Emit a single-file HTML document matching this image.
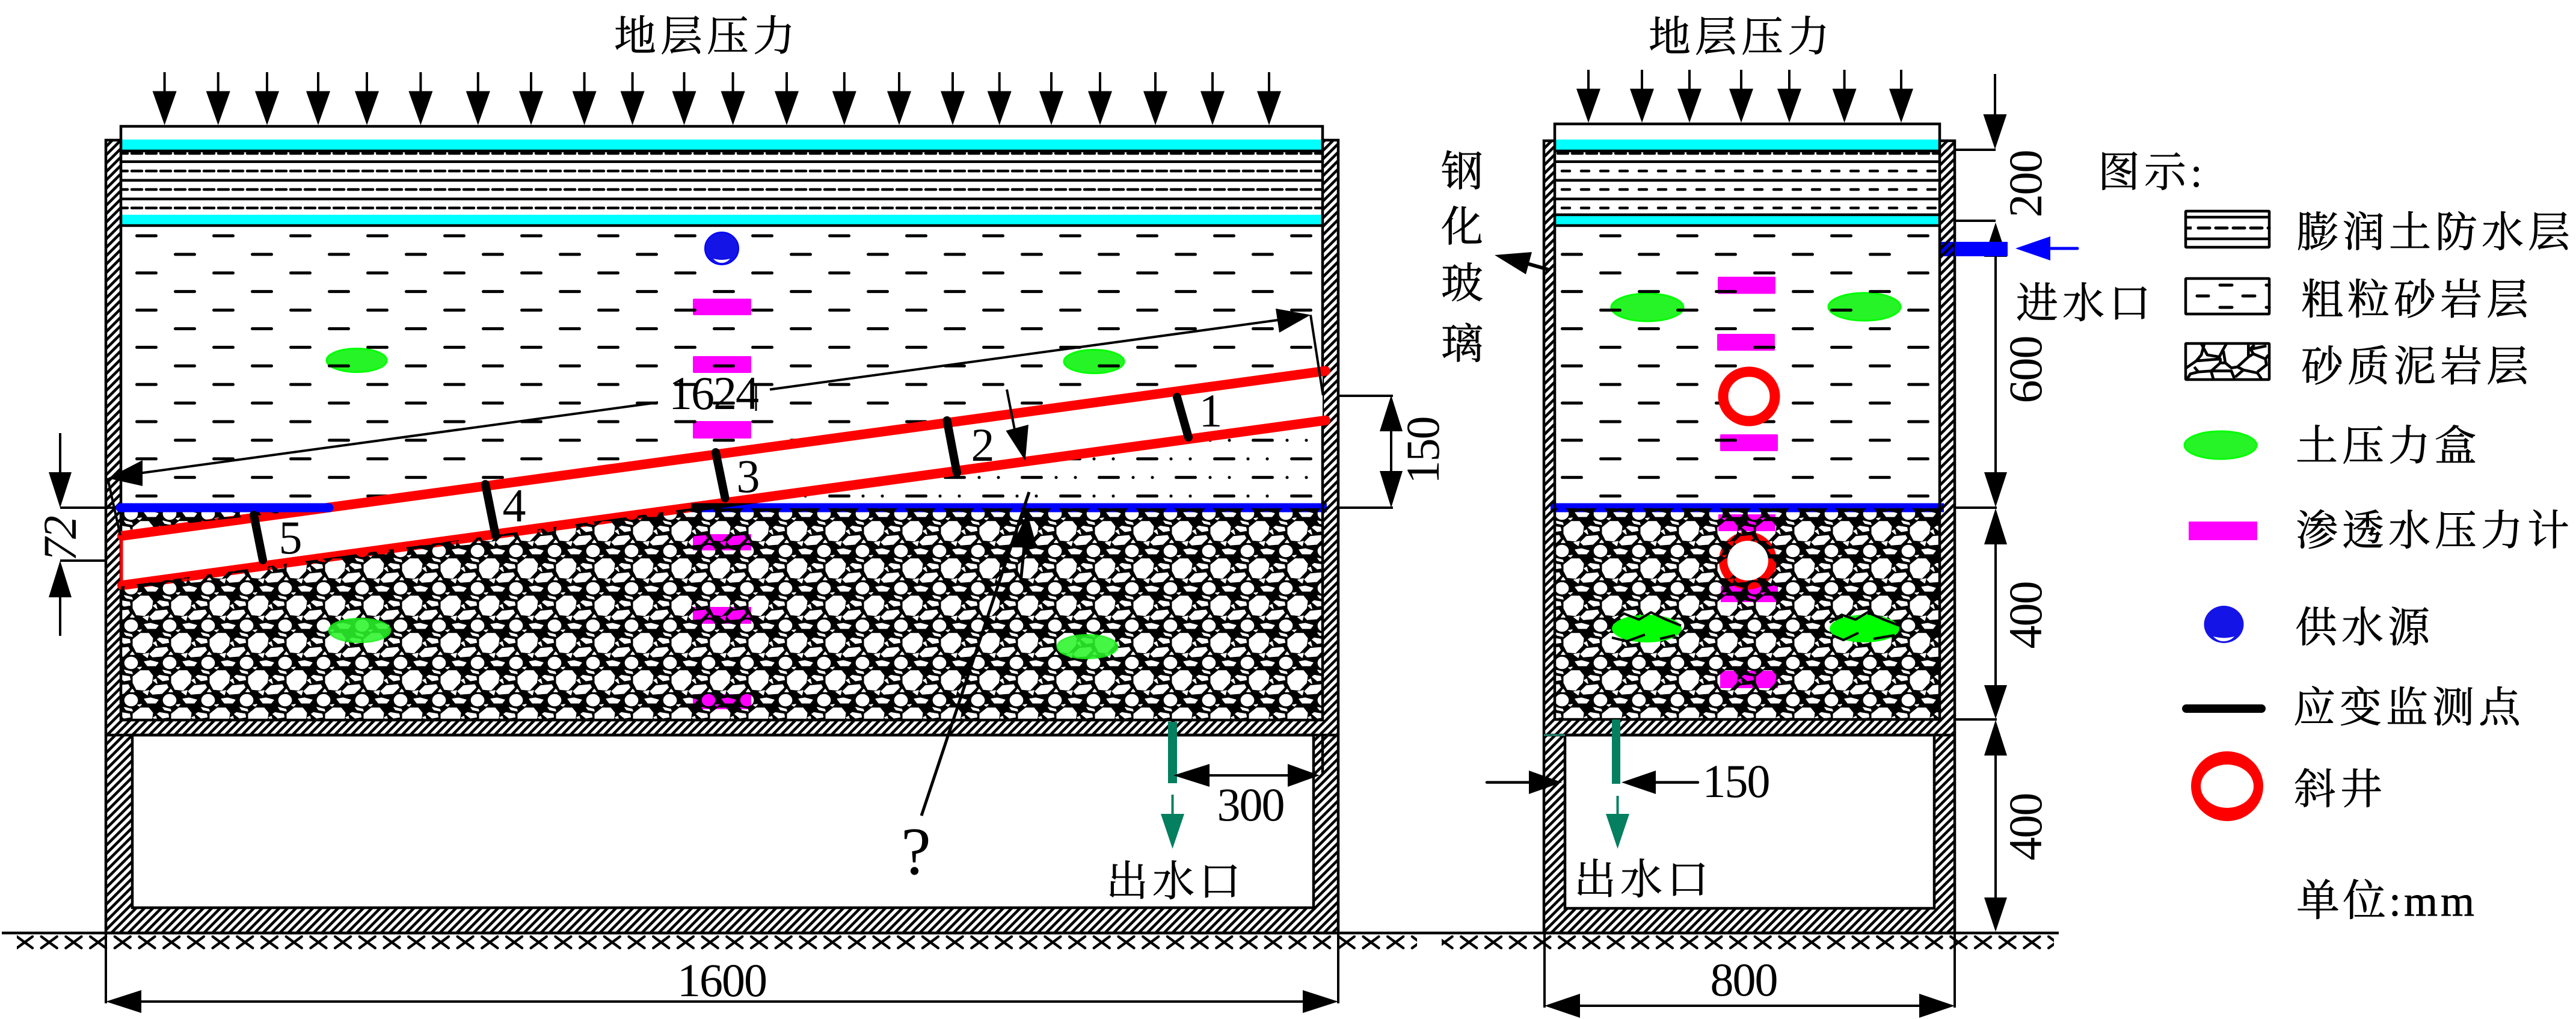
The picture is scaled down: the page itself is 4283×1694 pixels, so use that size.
<!DOCTYPE html>
<html><head><meta charset="utf-8"><style>
html,body{margin:0;padding:0;background:#fff}
svg{display:block}
text{font-family:"Liberation Serif","Noto Serif CJK SC",serif;fill:#000}
.c{font-size:70px;letter-spacing:7px;stroke:#000;stroke-width:.7px}
.d{font-size:78px;letter-spacing:-2px;text-anchor:middle}
.r{font-size:78px;letter-spacing:-2px;text-anchor:middle}
</style></head><body>
<svg xmlns="http://www.w3.org/2000/svg" width="4283" height="1694" viewBox="0 0 4283 1694">
<defs>
<pattern id="hatch" patternUnits="userSpaceOnUse" width="14" height="14">
<rect width="14" height="14" fill="#fff"/>
<path d="M-3 3L3 -3M-3 17L17 -3M11 17L17 11" stroke="#000" stroke-width="4.6"/>
</pattern>
<pattern id="mud" patternUnits="userSpaceOnUse" x="207" y="377" width="128" height="61.8">
<path d="M20.5 15H52.5M84.5 45.9H116.5" stroke="#000" stroke-width="5" stroke-linecap="round"/>
</pattern>
<pattern id="mud2" patternUnits="userSpaceOnUse" x="2641" y="377" width="128" height="61.8">
<path d="M20.5 15H52.5M84.5 45.9H116.5" stroke="#000" stroke-width="5" stroke-linecap="round"/>
</pattern>
<pattern id="dots" patternUnits="userSpaceOnUse" x="207" y="377" width="128" height="61.8">
<circle cx="76" cy="15" r="2.6"/><circle cx="108" cy="15" r="2.6"/>
<circle cx="13" cy="45.9" r="2.6"/><circle cx="45" cy="45.9" r="2.6"/>
</pattern>
<g id="cells" fill="#fff" stroke="#fff" stroke-width="1.6" stroke-linejoin="round">
<polygon points="16.3,24 28.7,14 42,14 48.7,22.3 47,34 35.3,46.3 22,45 16.3,34"/>
<polygon points="44.3,48.3 53.7,39 72,37.3 74.3,41.7 64.3,51.7 48.7,53"/>
<polygon points="57,24 60.3,21.7 74.3,24 75.3,29 65.3,30.7"/>
<ellipse cx="13" cy="1" rx="10.5" ry="9.5"/>
<polygon points="35.3,-1 45.3,-2.7 57.7,.7 53.7,5.7 40.3,5.7"/>
<polygon points="33,49 42,47 40,54"/>
<polygon points="15,45 18,49 12,49"/>
<polygon points="50,30 54,28 56,35"/>
<polygon points="2,13 14,16 15,19 5,17"/>
<polygon points="24,9 30,8 27,11"/>
</g>
<g id="tile">
<use href="#cells"/><use href="#cells" x="-64"/><use href="#cells" y="62"/><use href="#cells" x="-64" y="62"/><use href="#cells" y="-62"/>
</g>
<pattern id="rock" patternUnits="userSpaceOnUse" x="653" y="1101" width="64" height="62">
<rect width="64" height="62" fill="#000"/><use href="#tile"/>
</pattern>
<pattern id="rock2" patternUnits="userSpaceOnUse" x="664" y="1101" width="64" height="62">
<rect width="64" height="62" fill="#000"/><use href="#tile"/>
</pattern>
<pattern id="xx" patternUnits="userSpaceOnUse" x="21" y="1555" width="40.7" height="24">
<path d="M7 2L33 21M33 2L7 21" stroke="#000" stroke-width="4.4" stroke-linecap="round"/>
</pattern>
<g id="dn">
<line x1="0" y1="-88" x2="0" y2="-50" stroke="#000" stroke-width="4"/>
<polygon points="-20,-56.5 20,-56.5 0,0"/>
</g>
<clipPath id="rockL"><polygon points="201,844 543,844 203,882"/><polygon points="201,975 1149,845 2199,845 2199,1197 201,1197"/></clipPath>
<clipPath id="dotC"><polygon points="1150,846 2199,702 2199,838 1150,838"/></clipPath>
</defs>
<rect width="4283" height="1694" fill="#fff"/>

<!-- top text -->
<text class="c" x="1021" y="84">地层压力</text>
<text class="c" x="2741" y="85">地层压力</text>

<!-- pressure arrows -->
<g fill="#000">
<use href="#dn" x="273.6" y="208"/><use href="#dn" x="362.7" y="208"/><use href="#dn" x="444" y="208"/><use href="#dn" x="529" y="208"/><use href="#dn" x="610" y="208"/><use href="#dn" x="699.4" y="208"/><use href="#dn" x="794.8" y="208"/><use href="#dn" x="883" y="208"/><use href="#dn" x="971.6" y="208"/><use href="#dn" x="1051.6" y="208"/><use href="#dn" x="1137.5" y="208"/><use href="#dn" x="1218.6" y="208"/><use href="#dn" x="1308" y="208"/><use href="#dn" x="1403.8" y="208"/><use href="#dn" x="1495" y="208"/><use href="#dn" x="1584" y="208"/><use href="#dn" x="1661.7" y="208"/><use href="#dn" x="1748" y="208"/><use href="#dn" x="1829" y="208"/><use href="#dn" x="1921" y="208"/><use href="#dn" x="2016" y="208"/><use href="#dn" x="2110" y="208"/>
<use href="#dn" x="2641" y="204"/><use href="#dn" x="2730" y="204"/><use href="#dn" x="2809" y="204"/><use href="#dn" x="2895" y="204"/><use href="#dn" x="2975" y="204"/><use href="#dn" x="3066.6" y="204"/><use href="#dn" x="3161" y="204"/>
</g>

<!-- LEFT BOX top layers -->
<path d="M201 233V210H2199V233" fill="none" stroke="#000" stroke-width="4.5"/>
<rect x="198" y="232" width="2001" height="17" fill="#0ff"/>
<rect x="198" y="357" width="2001" height="16" fill="#0ff"/>
<g fill="none" stroke="#000" stroke-width="4.5">
<path d="M198 251H2199M201 268.7H2199M201 299.7H2199M201 330.7H2199M198 375H2199"/>
<path d="M195 255H2199M195 284.3H2199M195 315H2199M195 345.7H2199" stroke-dasharray="17 7" stroke-linecap="round"/>
</g>
<!-- sensors under dashes -->
<g fill="#f0f">
<rect x="1152" y="496.5" width="97" height="27.5" rx="2"/><rect x="1152" y="592" width="97" height="28" rx="2"/><rect x="1152" y="700" width="97" height="29" rx="2"/>
<rect x="2856" y="460" width="96" height="28.5" rx="2"/><rect x="2855" y="555" width="96" height="28" rx="2"/><rect x="2860" y="722" width="96" height="28" rx="2"/>
</g>
<g fill="#26f426" stroke="#0f0" stroke-width="3">
<ellipse cx="593" cy="599" rx="50" ry="19.5"/><ellipse cx="1819" cy="601" rx="50" ry="19.5"/>
<ellipse cx="2739" cy="511" rx="60" ry="23"/><ellipse cx="3100" cy="510" rx="60" ry="23"/>
</g>
<rect x="201" y="378" width="1998" height="458" fill="url(#mud)"/>
<rect x="2586" y="378" width="638" height="458" fill="url(#mud2)"/>
<rect x="1150" y="715" width="1049" height="125" fill="url(#dots)" clip-path="url(#dotC)"/>
<!-- water source -->
<ellipse cx="1200" cy="413" rx="28" ry="27" fill="#1414e6" stroke="#00f" stroke-width="2"/>
<path d="M1186 430Q1200 434 1214 430Q1208 437 1200 437Q1192 437 1186 430Z" fill="#fff"/>
<ellipse cx="2908" cy="659" rx="43" ry="41" fill="#fff" stroke="#f00" stroke-width="17"/>

<!-- RIGHT BOX top layers -->
<path d="M2585 234V206H3225V234" fill="none" stroke="#000" stroke-width="4.5"/>
<rect x="2586" y="232" width="638" height="17" fill="#0ff"/>
<rect x="2586" y="359" width="638" height="14" fill="#0ff"/>
<g fill="none" stroke="#000" stroke-width="4.5">
<path d="M2585 251H3225M2585 268.7H3225M2585 299.7H3225M2585 330.7H3225M2585 357H3225M2585 375H3225"/>
<path d="M2597 284.3H3225M2597 315H3225M2597 345.7H3225" stroke-dasharray="13 19" stroke-linecap="round"/>
<path d="M2590 255H3225" stroke-dasharray="17 7" stroke-linecap="round"/>
</g>

<!-- walls -->
<path fill-rule="evenodd" fill="url(#hatch)" stroke="#000" stroke-width="4.5" d="M176 233H201V1197H2199V233H2225V1551H176ZM220 1222H2184V1509H220Z"/>
<path d="M176 1222H2225M2199 1222V1287" stroke="#000" stroke-width="4.5" fill="none"/>
<path fill-rule="evenodd" fill="url(#hatch)" stroke="#000" stroke-width="4.5" d="M2567 234H2585V1196H3225V234H3250V1551H2567ZM2602 1222H3216V1510H2602Z"/>
<path d="M2567 1222H3250" stroke="#000" stroke-width="4.5"/>
<path d="M2567 1222H2602" stroke="#2a8f78" stroke-width="3"/>

<!-- band -->
<polygon points="203,891 2199,617.5 2199,699.5 203,973" fill="#fff"/>
<g stroke="#f00" fill="none" stroke-linecap="round">
<path d="M203 890.8L2204 616.6M203 973L2204 698.8" stroke-width="16"/>
<path d="M202 890V973" stroke-width="5"/>
</g>

<!-- rock-embedded sensors -->
<g fill="#f0f">
<rect x="1152" y="888" width="97" height="27"/><rect x="1152" y="1009" width="97" height="28"/><rect x="1152" y="1154" width="97" height="25"/>
<rect x="2857" y="855" width="95" height="28"/><rect x="2861" y="974" width="95" height="27"/><rect x="2860" y="1115" width="96" height="29"/>
</g>
<ellipse cx="2906" cy="932" rx="48" ry="48" fill="#f00"/>

<!-- rock -->
<rect x="201" y="844" width="1998" height="353" fill="url(#rock)" clip-path="url(#rockL)" style="mix-blend-mode:multiply"/>
<rect x="2585" y="845" width="640" height="351" fill="url(#rock2)" style="mix-blend-mode:multiply"/>
<ellipse cx="2906" cy="932" rx="34" ry="33" fill="#fff"/>
<g fill="#2cf52c" stroke="#1bf01b" stroke-width="3" opacity=".88">
<ellipse cx="598" cy="1048" rx="51" ry="19.5"/><ellipse cx="1808" cy="1075" rx="50" ry="19.5"/>
</g>
<g fill="#0f0">
<ellipse cx="2738" cy="1045" rx="58" ry="23"/><ellipse cx="3100" cy="1045" rx="58" ry="23"/>
</g>
<g fill="none" stroke="#000" stroke-width="4">
<path d="M2680 1035L2700 1020L2725 1030L2745 1018L2770 1030L2795 1040M2680 1060L2705 1066L2735 1055M2760 1062L2785 1056"/>
<path d="M3042 1035L3062 1022L3085 1030L3105 1018L3132 1030L3158 1040M3046 1056L3065 1064L3090 1052M3115 1062L3150 1056"/>
</g>

<!-- blue lines -->
<rect x="1149" y="836.5" width="1057" height="15" fill="#00f" style="mix-blend-mode:multiply"/>
<rect x="2578" y="836.5" width="654" height="15" fill="#00f" style="mix-blend-mode:multiply"/>
<line x1="200" y1="844" x2="547" y2="844" stroke="#00f" stroke-width="15" stroke-linecap="round"/>

<!-- strain gauges -->
<g stroke="#000" stroke-width="14" stroke-linecap="round" fill="none">
<path d="M1957 660L1976 727M1574.5 699L1591 786M1190 752L1205.6 828M807 805L824 890M422 856L437 931"/>
</g>
<text class="d" x="2012" y="709">1</text>
<text class="d" x="1633" y="766">2</text>
<text class="d" x="1243" y="818">3</text>
<text class="d" x="854" y="867">4</text>
<text class="d" x="482" y="920">5</text>

<!-- 1624 dim -->
<g stroke="#000" stroke-width="4" fill="none">
<path d="M1094 669L230 787M1280 647.5L2125 532M2179 523.5L2199.7 657M179 795L200 890"/>
<path d="M1257 637V683" stroke-width="3"/>
</g>
<polygon points="179,795 237,765 237,808"/>
<polygon points="2179,523.5 2121,513 2127,553"/>
<text class="d" x="1186" y="680">1624</text>

<!-- inner arrow and ? -->
<path d="M1674 647.5L1693 745" stroke="#000" stroke-width="4"/>
<polygon points="1704.6,766 1672.4,716 1710,706"/>
<path d="M1532 1356L1711 818M1703 908L1697 968" stroke="#000" stroke-width="5" fill="none"/>
<polygon points="1708,852 1682,910 1724,910"/>
<text x="1523" y="1453" text-anchor="middle" style="font-size:112px">?</text>

<!-- 150 dim -->
<g stroke="#000" stroke-width="4" fill="none"><path d="M2225 658H2316M2225 844H2316M2313 700V800"/></g>
<polygon points="2313,657 2294,717 2332,717"/>
<polygon points="2313,844 2294,783 2332,783"/>
<text transform="translate(2392,749) rotate(-90)" class="r">150</text>

<!-- 72 dim -->
<g stroke="#000" stroke-width="4" fill="none"><path d="M100 720V790M100 844H190M100 932H176M100 990V1057"/></g>
<polygon points="100,844 81,785 119,785"/>
<polygon points="100,932 81,993 119,993"/>
<text transform="translate(126,896) rotate(-90)" class="r" style="font-style:italic">72</text>

<!-- Ground -->
<path d="M3 1551H3423" stroke="#000" stroke-width="4.5"/>
<rect x="28" y="1555" width="2328" height="24" fill="url(#xx)"/>
<rect x="2397" y="1555" width="1018" height="24" fill="url(#xx)"/>

<!-- 1600 dim -->
<g stroke="#000" stroke-width="4" fill="none"><path d="M176 1551V1668M2225 1551V1668M220 1665H2180"/></g>
<polygon points="176,1665 235,1646 235,1684"/>
<polygon points="2225,1665 2166,1646 2166,1684"/>
<text class="d" x="1200" y="1656">1600</text>

<!-- 800 dim -->
<g stroke="#000" stroke-width="4" fill="none"><path d="M2568 1551V1675M3250 1551V1675M2610 1672H3210"/></g>
<polygon points="2568,1672 2627,1652 2627,1692"/>
<polygon points="3250,1672 3191,1652 3191,1692"/>
<text class="d" x="2899" y="1655">800</text>

<!-- outlet left -->
<rect x="1942" y="1200" width="15" height="102" fill="#047f5f"/>
<path d="M1949.5 1321V1360" stroke="#047f5f" stroke-width="4"/>
<polygon points="1930,1353 1969,1353 1949.5,1411" fill="#047f5f"/>
<text class="c" x="1839" y="1489">出水口</text>
<path d="M2005 1289H2145" stroke="#000" stroke-width="4"/>
<polygon points="1951,1289 2011,1270 2011,1308"/>
<polygon points="2194,1289 2141,1270 2141,1308"/>
<text class="d" x="2079" y="1364">300</text>

<!-- outlet right -->
<rect x="2680" y="1196" width="14" height="107" fill="#047f5f"/>
<path d="M2689.5 1323V1360" stroke="#047f5f" stroke-width="4"/>
<polygon points="2670,1353 2709,1353 2689.5,1411" fill="#047f5f"/>
<text class="c" x="2617" y="1486">出水口</text>
<path d="M2472 1300.6H2550M2745 1300.6H2823" stroke="#000" stroke-width="4.5" stroke-linecap="round"/>
<polygon points="2597,1300.6 2542,1281 2542,1320"/>
<polygon points="2696,1300.6 2753,1281 2753,1320"/>
<text class="d" x="2886" y="1325">150</text>

<!-- Steel glass -->
<text class="c" x="2396" y="309">钢</text>
<text class="c" x="2396" y="401">化</text>
<text class="c" x="2396" y="495">玻</text>
<text class="c" x="2396" y="596">璃</text>
<path d="M2574 448L2535 437" stroke="#000" stroke-width="6"/>
<polygon points="2485,424 2547,419 2537,456"/>

<!-- Right dims -->
<g stroke="#000" stroke-width="4" fill="none">
<path d="M3250 249H3318M3250 367H3318M3250 844H3320M3250 1196H3320"/>
<path d="M3317 123V195M3318 420V790M3318 900V1145M3318 1250V1495"/>
</g>
<polygon points="3297.5,190 3336.5,190 3317,248"/>
<polygon points="3318,370 3299,427 3337,427"/>
<polygon points="3318,843 3299,785 3337,785"/>
<polygon points="3318,845 3299,905 3337,905"/>
<polygon points="3318,1195 3299,1139 3337,1139"/>
<polygon points="3318,1197 3299,1256 3337,1256"/>
<polygon points="3318,1549 3299,1492 3337,1492"/>
<text transform="translate(3394,306) rotate(-90)" class="r">200</text>
<text transform="translate(3394,615) rotate(-90)" class="r">600</text>
<text transform="translate(3394,1023) rotate(-90)" class="r">400</text>
<text transform="translate(3394,1375) rotate(-90)" class="r">400</text>

<!-- inlet -->
<rect x="3227" y="402" width="23" height="24" fill="#00f" style="mix-blend-mode:multiply"/>
<rect x="3250" y="402" width="88" height="24" fill="#00f"/>
<polygon points="3351,413 3409,393 3409,433" fill="#00f"/>
<path d="M3405 413H3454" stroke="#00f" stroke-width="5" stroke-linecap="round"/>
<text class="c" x="3352" y="528">进水口</text>

<!-- Legend -->
<text class="c" x="3488" y="310">图示:</text>
<g fill="none" stroke="#000" stroke-width="4.5">
<rect x="3634" y="351" width="139" height="60" rx="1"/>
<path d="M3634 361H3773M3634 397H3773"/>
<path d="M3655 379H3773" stroke-width="5" stroke-dasharray="19 10" stroke-linecap="round"/>
<path d="M3634 379H3644" stroke-width="5"/>
<rect x="3634" y="463" width="139" height="59" rx="1"/>
<path d="M3691 474H3711M3653 492H3672M3729 492H3749M3691 511H3711M3768 474H3773M3768 511H3773" stroke-width="5" stroke-linecap="round"/>
<rect x="3634" y="571" width="139" height="60" rx="1"/>
<g stroke-linejoin="round">
<path transform="translate(3620,340) scale(.3333)" stroke-width="14" d="M135 695L120 750L95 780L45 815M120 695L150 750L210 760L225 730L245 695M230 730L240 790L270 815L300 810L355 760L355 700M355 760L380 745L440 770L455 750M380 745L365 720L385 700M375 720L445 705M95 780L215 770L215 790L170 830L105 835L85 810M215 790L240 790M105 835L65 845L50 870M170 835L180 870M170 830L270 830L285 868M300 810L330 825L290 860M330 825L400 840L420 870M440 770L445 800L400 835"/>
</g>
</g>
<text class="c" x="3818" y="410">膨润土防水层</text>
<text class="c" x="3826" y="522">粗粒砂岩层</text>
<text class="c" x="3826" y="633">砂质泥岩层</text>
<text class="c" x="3817" y="765">土压力盒</text>
<text class="c" x="3817" y="906">渗透水压力计</text>
<text class="c" x="3816" y="1067">供水源</text>
<text class="c" x="3813" y="1200">应变监测点</text>
<text class="c" x="3814" y="1336">斜井</text>
<text x="3818" y="1522" style="font-size:72px;letter-spacing:5px;stroke:#000;stroke-width:.7px">单位:mm</text>
<ellipse cx="3692" cy="740" rx="60" ry="23" fill="#26f426" stroke="#0f0" stroke-width="3"/>
<rect x="3639" y="867" width="114" height="31" fill="#f0f"/>
<ellipse cx="3697.5" cy="1038" rx="33" ry="31" fill="#1414e6"/>
<path d="M3680 1058Q3697 1063 3715 1058Q3708 1066 3697 1066Q3687 1066 3680 1058Z" fill="#fff"/>
<line x1="3635" y1="1178" x2="3760" y2="1178" stroke="#000" stroke-width="14" stroke-linecap="round"/>
<ellipse cx="3703" cy="1307" rx="60" ry="58" fill="#f00"/>
<ellipse cx="3703" cy="1307" rx="44" ry="36" fill="#fff"/>
</svg>
</body></html>
